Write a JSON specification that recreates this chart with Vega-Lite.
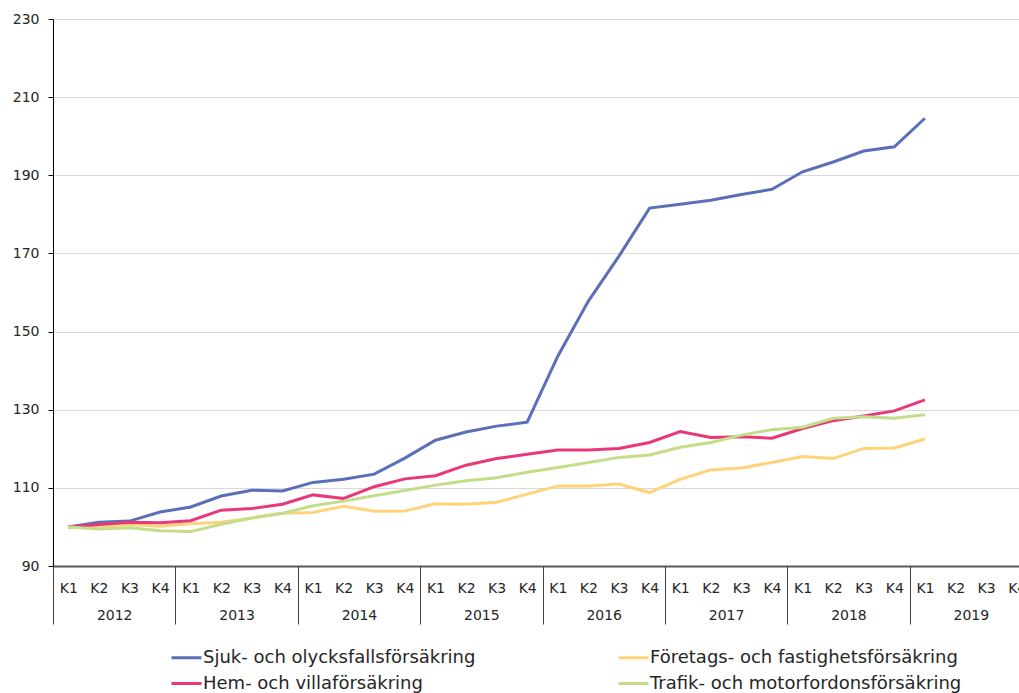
{
  "$schema": "https://vega.github.io/schema/vega-lite/v6.json",
  "width": 979,
  "height": 547,
  "padding": {"left": 12, "top": 12, "right": 0, "bottom": 0},
  "background": "white",
  "config": {"view": {"stroke": null}, "font": "DejaVu Sans"},
  "layer": [
    {
      "data": {"values": [
        {"period": "2012K1", "serie": "Sjuk- och olycksfallsförsäkring", "value": 100},
        {"period": "2012K2", "serie": "Sjuk- och olycksfallsförsäkring", "value": 101.2},
        {"period": "2012K3", "serie": "Sjuk- och olycksfallsförsäkring", "value": 101.5},
        {"period": "2012K4", "serie": "Sjuk- och olycksfallsförsäkring", "value": 103.8},
        {"period": "2013K1", "serie": "Sjuk- och olycksfallsförsäkring", "value": 105.1},
        {"period": "2013K2", "serie": "Sjuk- och olycksfallsförsäkring", "value": 107.9},
        {"period": "2013K3", "serie": "Sjuk- och olycksfallsförsäkring", "value": 109.4},
        {"period": "2013K4", "serie": "Sjuk- och olycksfallsförsäkring", "value": 109.2},
        {"period": "2014K1", "serie": "Sjuk- och olycksfallsförsäkring", "value": 111.4},
        {"period": "2014K2", "serie": "Sjuk- och olycksfallsförsäkring", "value": 112.2},
        {"period": "2014K3", "serie": "Sjuk- och olycksfallsförsäkring", "value": 113.5},
        {"period": "2014K4", "serie": "Sjuk- och olycksfallsförsäkring", "value": 117.6},
        {"period": "2015K1", "serie": "Sjuk- och olycksfallsförsäkring", "value": 122.2},
        {"period": "2015K2", "serie": "Sjuk- och olycksfallsförsäkring", "value": 124.3},
        {"period": "2015K3", "serie": "Sjuk- och olycksfallsförsäkring", "value": 125.8},
        {"period": "2015K4", "serie": "Sjuk- och olycksfallsförsäkring", "value": 126.8},
        {"period": "2016K1", "serie": "Sjuk- och olycksfallsförsäkring", "value": 143.7},
        {"period": "2016K2", "serie": "Sjuk- och olycksfallsförsäkring", "value": 157.8},
        {"period": "2016K3", "serie": "Sjuk- och olycksfallsförsäkring", "value": 169.3},
        {"period": "2016K4", "serie": "Sjuk- och olycksfallsförsäkring", "value": 181.6},
        {"period": "2017K1", "serie": "Sjuk- och olycksfallsförsäkring", "value": 182.6},
        {"period": "2017K2", "serie": "Sjuk- och olycksfallsförsäkring", "value": 183.6},
        {"period": "2017K3", "serie": "Sjuk- och olycksfallsförsäkring", "value": 185.1},
        {"period": "2017K4", "serie": "Sjuk- och olycksfallsförsäkring", "value": 186.4},
        {"period": "2018K1", "serie": "Sjuk- och olycksfallsförsäkring", "value": 190.9},
        {"period": "2018K2", "serie": "Sjuk- och olycksfallsförsäkring", "value": 193.4},
        {"period": "2018K3", "serie": "Sjuk- och olycksfallsförsäkring", "value": 196.2},
        {"period": "2018K4", "serie": "Sjuk- och olycksfallsförsäkring", "value": 197.3},
        {"period": "2019K1", "serie": "Sjuk- och olycksfallsförsäkring", "value": 204.6},
        {"period": "2012K1", "serie": "Företags- och fastighetsförsäkring", "value": 100},
        {"period": "2012K2", "serie": "Företags- och fastighetsförsäkring", "value": 100.1},
        {"period": "2012K3", "serie": "Företags- och fastighetsförsäkring", "value": 100.6},
        {"period": "2012K4", "serie": "Företags- och fastighetsförsäkring", "value": 100.2},
        {"period": "2013K1", "serie": "Företags- och fastighetsförsäkring", "value": 100.8},
        {"period": "2013K2", "serie": "Företags- och fastighetsförsäkring", "value": 101.2},
        {"period": "2013K3", "serie": "Företags- och fastighetsförsäkring", "value": 102.3},
        {"period": "2013K4", "serie": "Företags- och fastighetsförsäkring", "value": 103.5},
        {"period": "2014K1", "serie": "Företags- och fastighetsförsäkring", "value": 103.7},
        {"period": "2014K2", "serie": "Företags- och fastighetsförsäkring", "value": 105.3},
        {"period": "2014K3", "serie": "Företags- och fastighetsförsäkring", "value": 104.0},
        {"period": "2014K4", "serie": "Företags- och fastighetsförsäkring", "value": 104.1},
        {"period": "2015K1", "serie": "Företags- och fastighetsförsäkring", "value": 105.9},
        {"period": "2015K2", "serie": "Företags- och fastighetsförsäkring", "value": 105.8},
        {"period": "2015K3", "serie": "Företags- och fastighetsförsäkring", "value": 106.3},
        {"period": "2015K4", "serie": "Företags- och fastighetsförsäkring", "value": 108.4},
        {"period": "2016K1", "serie": "Företags- och fastighetsförsäkring", "value": 110.5},
        {"period": "2016K2", "serie": "Företags- och fastighetsförsäkring", "value": 110.5},
        {"period": "2016K3", "serie": "Företags- och fastighetsförsäkring", "value": 111.0},
        {"period": "2016K4", "serie": "Företags- och fastighetsförsäkring", "value": 108.8},
        {"period": "2017K1", "serie": "Företags- och fastighetsförsäkring", "value": 112.2},
        {"period": "2017K2", "serie": "Företags- och fastighetsförsäkring", "value": 114.6},
        {"period": "2017K3", "serie": "Företags- och fastighetsförsäkring", "value": 115.1},
        {"period": "2017K4", "serie": "Företags- och fastighetsförsäkring", "value": 116.5},
        {"period": "2018K1", "serie": "Företags- och fastighetsförsäkring", "value": 118.0},
        {"period": "2018K2", "serie": "Företags- och fastighetsförsäkring", "value": 117.5},
        {"period": "2018K3", "serie": "Företags- och fastighetsförsäkring", "value": 120.1},
        {"period": "2018K4", "serie": "Företags- och fastighetsförsäkring", "value": 120.2},
        {"period": "2019K1", "serie": "Företags- och fastighetsförsäkring", "value": 122.5},
        {"period": "2012K1", "serie": "Hem- och villaförsäkring", "value": 100},
        {"period": "2012K2", "serie": "Hem- och villaförsäkring", "value": 100.6},
        {"period": "2012K3", "serie": "Hem- och villaförsäkring", "value": 101.2},
        {"period": "2012K4", "serie": "Hem- och villaförsäkring", "value": 101.1},
        {"period": "2013K1", "serie": "Hem- och villaförsäkring", "value": 101.6},
        {"period": "2013K2", "serie": "Hem- och villaförsäkring", "value": 104.3},
        {"period": "2013K3", "serie": "Hem- och villaförsäkring", "value": 104.7},
        {"period": "2013K4", "serie": "Hem- och villaförsäkring", "value": 105.8},
        {"period": "2014K1", "serie": "Hem- och villaförsäkring", "value": 108.2},
        {"period": "2014K2", "serie": "Hem- och villaförsäkring", "value": 107.3},
        {"period": "2014K3", "serie": "Hem- och villaförsäkring", "value": 110.3},
        {"period": "2014K4", "serie": "Hem- och villaförsäkring", "value": 112.3},
        {"period": "2015K1", "serie": "Hem- och villaförsäkring", "value": 113.1},
        {"period": "2015K2", "serie": "Hem- och villaförsäkring", "value": 115.8},
        {"period": "2015K3", "serie": "Hem- och villaförsäkring", "value": 117.5},
        {"period": "2015K4", "serie": "Hem- och villaförsäkring", "value": 118.6},
        {"period": "2016K1", "serie": "Hem- och villaförsäkring", "value": 119.7},
        {"period": "2016K2", "serie": "Hem- och villaförsäkring", "value": 119.7},
        {"period": "2016K3", "serie": "Hem- och villaförsäkring", "value": 120.1},
        {"period": "2016K4", "serie": "Hem- och villaförsäkring", "value": 121.6},
        {"period": "2017K1", "serie": "Hem- och villaförsäkring", "value": 124.4},
        {"period": "2017K2", "serie": "Hem- och villaförsäkring", "value": 122.9},
        {"period": "2017K3", "serie": "Hem- och villaförsäkring", "value": 123.1},
        {"period": "2017K4", "serie": "Hem- och villaförsäkring", "value": 122.7},
        {"period": "2018K1", "serie": "Hem- och villaförsäkring", "value": 125.2},
        {"period": "2018K2", "serie": "Hem- och villaförsäkring", "value": 127.2},
        {"period": "2018K3", "serie": "Hem- och villaförsäkring", "value": 128.4},
        {"period": "2018K4", "serie": "Hem- och villaförsäkring", "value": 129.7},
        {"period": "2019K1", "serie": "Hem- och villaförsäkring", "value": 132.5},
        {"period": "2012K1", "serie": "Trafik- och motorfordonsförsäkring", "value": 100},
        {"period": "2012K2", "serie": "Trafik- och motorfordonsförsäkring", "value": 99.5},
        {"period": "2012K3", "serie": "Trafik- och motorfordonsförsäkring", "value": 99.8},
        {"period": "2012K4", "serie": "Trafik- och motorfordonsförsäkring", "value": 99.0},
        {"period": "2013K1", "serie": "Trafik- och motorfordonsförsäkring", "value": 98.8},
        {"period": "2013K2", "serie": "Trafik- och motorfordonsförsäkring", "value": 100.7},
        {"period": "2013K3", "serie": "Trafik- och motorfordonsförsäkring", "value": 102.3},
        {"period": "2013K4", "serie": "Trafik- och motorfordonsförsäkring", "value": 103.5},
        {"period": "2014K1", "serie": "Trafik- och motorfordonsförsäkring", "value": 105.4},
        {"period": "2014K2", "serie": "Trafik- och motorfordonsförsäkring", "value": 106.6},
        {"period": "2014K3", "serie": "Trafik- och motorfordonsförsäkring", "value": 108.0},
        {"period": "2014K4", "serie": "Trafik- och motorfordonsförsäkring", "value": 109.3},
        {"period": "2015K1", "serie": "Trafik- och motorfordonsförsäkring", "value": 110.7},
        {"period": "2015K2", "serie": "Trafik- och motorfordonsförsäkring", "value": 111.8},
        {"period": "2015K3", "serie": "Trafik- och motorfordonsförsäkring", "value": 112.6},
        {"period": "2015K4", "serie": "Trafik- och motorfordonsförsäkring", "value": 114.0},
        {"period": "2016K1", "serie": "Trafik- och motorfordonsförsäkring", "value": 115.2},
        {"period": "2016K2", "serie": "Trafik- och motorfordonsförsäkring", "value": 116.5},
        {"period": "2016K3", "serie": "Trafik- och motorfordonsförsäkring", "value": 117.8},
        {"period": "2016K4", "serie": "Trafik- och motorfordonsförsäkring", "value": 118.4},
        {"period": "2017K1", "serie": "Trafik- och motorfordonsförsäkring", "value": 120.4},
        {"period": "2017K2", "serie": "Trafik- och motorfordonsförsäkring", "value": 121.6},
        {"period": "2017K3", "serie": "Trafik- och motorfordonsförsäkring", "value": 123.5},
        {"period": "2017K4", "serie": "Trafik- och motorfordonsförsäkring", "value": 124.9},
        {"period": "2018K1", "serie": "Trafik- och motorfordonsförsäkring", "value": 125.5},
        {"period": "2018K2", "serie": "Trafik- och motorfordonsförsäkring", "value": 127.8},
        {"period": "2018K3", "serie": "Trafik- och motorfordonsförsäkring", "value": 128.2},
        {"period": "2018K4", "serie": "Trafik- och motorfordonsförsäkring", "value": 127.8},
        {"period": "2019K1", "serie": "Trafik- och motorfordonsförsäkring", "value": 128.7}
      ]},
      "mark": {"type": "line", "strokeWidth": 3},
      "encoding": {
        "x": {
          "field": "period", "type": "ordinal",
          "scale": {"type": "point", "padding": 0.5, "domain": ["2012K1","2012K2","2012K3","2012K4","2013K1","2013K2","2013K3","2013K4","2014K1","2014K2","2014K3","2014K4","2015K1","2015K2","2015K3","2015K4","2016K1","2016K2","2016K3","2016K4","2017K1","2017K2","2017K3","2017K4","2018K1","2018K2","2018K3","2018K4","2019K1","2019K2","2019K3","2019K4"]},
          "axis": {"title": null, "labelExpr": "substring(datum.value, 4)", "labelAngle": 0, "ticks": false, "tickSize": 0, "labelPadding": 15, "domainColor": "#595959", "domainWidth": 2, "labelFontSize": 14, "labelFont": "DejaVu Sans", "labelColor": "#262626", "grid": false}
        },
        "y": {
          "field": "value", "type": "quantitative",
          "scale": {"domain": [90, 230], "nice": false, "zero": false},
          "axis": {"title": null, "values": [90, 110, 130, 150, 170, 190, 210, 230], "tickSize": 5, "tickColor": "#000000", "domainColor": "#000000", "labelPadding": 9, "gridColor": "#d9d9d9", "labelFontSize": 14, "labelFont": "DejaVu Sans", "labelColor": "#262626"}
        },
        "color": {
          "field": "serie", "type": "nominal",
          "scale": {"domain": ["Sjuk- och olycksfallsförsäkring", "Företags- och fastighetsförsäkring", "Hem- och villaförsäkring", "Trafik- och motorfordonsförsäkring"], "range": ["#5B6FB9", "#FFD37A", "#E8387A", "#C3DE8A"]},
          "legend": {"title": null, "orient": "none", "legendX": 117, "legendY": 622, "columns": 2, "direction": "horizontal", "symbolType": "stroke", "symbolSize": 900, "symbolStrokeWidth": 3, "labelFontSize": 18, "labelFont": "DejaVu Sans", "labelColor": "#262626", "labelOffset": 0, "columnPadding": 136, "rowPadding": -2, "labelLimit": 400}
        }
      }
    },
    {
      "data": {"values": [{"year": "2012"}, {"year": "2013"}, {"year": "2014"}, {"year": "2015"}, {"year": "2016"}, {"year": "2017"}, {"year": "2018"}, {"year": "2019"}]},
      "mark": {"type": "rule", "opacity": 0},
      "encoding": {
        "x": {
          "field": "year", "type": "ordinal",
          "scale": {"type": "band", "paddingInner": 0, "paddingOuter": 0, "domain": ["2012","2013","2014","2015","2016","2017","2018","2019"]},
          "axis": {"title": null, "orient": "bottom", "tickBand": "extent", "tickSize": 58, "tickColor": "#404040", "domain": false, "labelPadding": -16, "labelAngle": 0, "labelFontSize": 14, "labelFont": "DejaVu Sans", "labelColor": "#262626", "grid": false}
        }
      }
    }
  ],
  "resolve": {"scale": {"x": "independent"}, "axis": {"x": "independent"}}
}
